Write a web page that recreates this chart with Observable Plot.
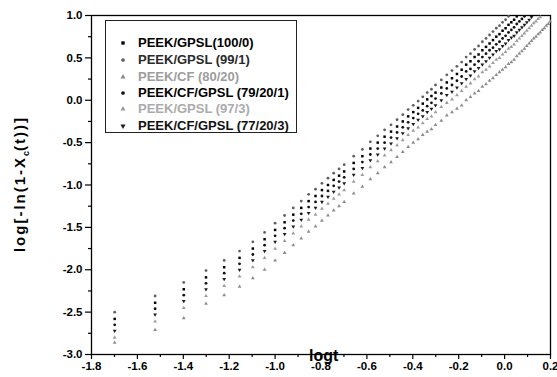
<!DOCTYPE html>
<html><head><meta charset="utf-8">
<script src="https://cdn.jsdelivr.net/npm/d3@7"></script>
<script src="https://cdn.jsdelivr.net/npm/@observablehq/plot@0.6"></script>
<style>
body{margin:0;background:#fff;}
#wrap{position:relative;width:557px;height:377px;font-family:"Liberation Sans",Arial,sans-serif;overflow:hidden;}
#legend{position:absolute;left:105px;top:20px;width:192px;height:113px;border:1px solid #222;box-sizing:border-box;background:#fff;}
.row{position:absolute;left:0;height:16px;line-height:16px;font-size:13px;font-weight:bold;white-space:nowrap;}
.row svg{position:absolute;left:12px;top:3px;}
.row span{position:absolute;left:32px;top:0;}
#xlab{position:absolute;left:309px;top:347px;font-size:16px;font-weight:bold;}
#ylab{position:absolute;left:21px;top:184px;font-size:15px;font-weight:bold;letter-spacing:2px;white-space:nowrap;transform:translate(-50%,-50%) rotate(-90deg);}
#ylab sub{font-size:9px;letter-spacing:0;}
</style>
</head><body>
<div id="wrap"></div>
<script>
// time values (t); x position is log10(t)
const tValues = [0.02,0.03,0.04,0.05,0.06,0.07,0.08,0.09,0.10,0.11,0.12,0.13,0.14,0.15,0.16,0.17,0.18,0.19,0.20,
 0.22,0.24,0.26,0.28,0.30,0.32,0.34,0.36,0.38,0.40,0.42,0.44,0.46,0.48,0.50,
 0.53,0.56,0.59,0.62,0.65,0.68,0.71,0.74,0.77,0.80,0.83,0.86,0.89,0.92,0.95,0.98,1.01,1.04,1.07,1.10,1.13,1.16,1.19,1.22,1.25,1.28,1.31,1.34,1.37,1.40,1.43,1.46,1.49,1.52,1.55,1.58];

const names = ["PEEK/GPSL(100/0)","PEEK/GPSL (99/1)","PEEK/CF (80/20)","PEEK/CF/GPSL (79/20/1)","PEEK/GPSL (97/3)","PEEK/CF/GPSL (77/20/3)"];

const y100_0 = [-2.58,-2.39,-2.23,-2.09,-1.97,-1.86,-1.75,-1.64,-1.53,-1.44,-1.35,-1.27,-1.19,-1.13,-1.06,-1.00,-0.94,-0.89,-0.84,-0.74,-0.66,-0.57,-0.50,-0.43,-0.37,-0.31,-0.25,-0.19,
 -0.14,-0.09,-0.04,0.01,0.05,0.09,0.15,0.21,0.26,0.31,0.36,0.42,0.46,0.51,0.54,0.59,0.63,0.67,0.71,0.75,0.78,0.82,0.85,0.89,0.92,0.95,0.99];
const y99_1 = [-2.50,-2.31,-2.15,-2.01,-1.89,-1.78,-1.67,-1.56,-1.45,-1.36,-1.27,-1.19,-1.11,-1.05,-0.98,-0.92,-0.86,-0.81,-0.76,-0.66,-0.58,-0.49,-0.42,-0.35,-0.29,-0.23,-0.17,-0.11,
 -0.06,-0.01,0.04,0.09,0.13,0.18,0.24,0.30,0.35,0.40,0.45,0.51,0.55,0.60,0.64,0.69,0.73,0.77,0.81,0.85,0.88,0.92,0.95,0.99];
const y80_20 = [-2.86,-2.71,-2.57,-2.40,-2.30,-2.20,-2.10,-2.00,-1.89,-1.80,-1.71,-1.63,-1.55,-1.49,-1.42,-1.36,-1.30,-1.25,-1.20,-1.10,-1.02,-0.93,-0.86,-0.79,-0.73,-0.67,-0.61,-0.55,
 -0.50,-0.46,-0.41,-0.37,-0.34,-0.29,-0.24,-0.18,-0.14,-0.10,-0.06,0.00,0.04,0.08,0.11,0.16,0.19,0.23,0.26,0.30,0.33,0.36,0.39,0.43,0.45,0.48,0.52,0.55,0.58,0.61,0.64,0.67,0.70,0.73,0.75,0.78,0.80,0.83,0.85,0.88,0.90,0.93];
const y79_20_1 = [-2.65,-2.46,-2.30,-2.16,-2.04,-1.93,-1.82,-1.71,-1.60,-1.51,-1.42,-1.34,-1.26,-1.20,-1.13,-1.07,-1.01,-0.96,-0.91,-0.81,-0.73,-0.64,-0.57,-0.50,-0.44,-0.38,-0.32,-0.26,
 -0.21,-0.16,-0.12,-0.07,-0.03,0.02,0.08,0.14,0.18,0.23,0.28,0.34,0.37,0.42,0.46,0.51,0.55,0.59,0.62,0.66,0.69,0.73,0.76,0.80,0.83,0.86,0.90,0.93,0.96,0.99];
const y97_3 = [-2.80,-2.61,-2.45,-2.31,-2.19,-2.08,-1.97,-1.86,-1.75,-1.66,-1.57,-1.49,-1.41,-1.35,-1.28,-1.22,-1.16,-1.11,-1.06,-0.96,-0.88,-0.79,-0.72,-0.65,-0.59,-0.53,-0.47,-0.41,
 -0.36,-0.32,-0.27,-0.22,-0.19,-0.14,-0.08,-0.03,0.01,0.06,0.11,0.16,0.20,0.25,0.28,0.33,0.36,0.40,0.44,0.48,0.50,0.54,0.57,0.61,0.63,0.66,0.70,0.73,0.76,0.79,0.82,0.85,0.88,0.91,0.93,0.96,0.98];
const y77_20_3 = [-2.72,-2.53,-2.37,-2.23,-2.11,-2.00,-1.89,-1.78,-1.67,-1.58,-1.49,-1.41,-1.33,-1.27,-1.20,-1.14,-1.08,-1.03,-0.98,-0.88,-0.80,-0.71,-0.64,-0.57,-0.51,-0.45,-0.39,-0.33,
 -0.28,-0.23,-0.19,-0.14,-0.10,-0.06,0.00,0.06,0.10,0.15,0.20,0.25,0.29,0.34,0.38,0.42,0.46,0.50,0.54,0.58,0.60,0.64,0.67,0.71,0.74,0.76,0.80,0.83,0.86,0.89,0.92,0.95,0.98];

const xTicks = [-1.8,-1.6,-1.4,-1.2,-1.0,-0.8,-0.6,-0.4,-0.2,0.0,0.2];
const xMinor = [-1.7,-1.5,-1.3,-1.1,-0.9,-0.7,-0.5,-0.3,-0.1,0.1];
const yTicks = [-3.0,-2.5,-2.0,-1.5,-1.0,-0.5,0.0,0.5,1.0];
const yMinor = [-2.75,-2.25,-1.75,-1.25,-0.75,-0.25,0.25,0.75];

const seriesValues = [y100_0, y99_1, y80_20, y79_20_1, y97_3, y77_20_3];
const colors = ["#000000","#606060","#8c8c8c","#111111","#9c9c9c","#1c1c1c"];
const textColors = ["#000000","#2a2a2a","#9d9d9d","#000000","#ababab","#111111"];
const symbols = ["square","circle","triangle","circle","triangle","triangle"];
const rotations = [0,0,0,0,0,180];

const rows = [];
seriesValues.forEach((vals, k) => vals.forEach((y, i) => rows.push({logt: Math.log10(tValues[i]), y, s: names[k], rot: rotations[k]})));
// draw light series first so the dark ones sit on top
const order = [2,4,1,0,3,5];
rows.sort((a,b) => order.indexOf(names.indexOf(a.s)) - order.indexOf(names.indexOf(b.s)));

const plot = Plot.plot({
  width: 557, height: 377,
  marginLeft: 91, marginRight: 7, marginTop: 15, marginBottom: 23,
  x: {domain: [-1.8, 0.2]},
  y: {domain: [-3, 1]},
  color: {domain: names, range: colors},
  symbol: {domain: names, range: symbols},
  style: {fontFamily: "'Liberation Sans', Arial, sans-serif", fontSize: "11.5px", fontWeight: "bold", color: "#000", background: "#fff"},
  marks: [
    Plot.axisX({ticks: xMinor, tickSize: 3, tickFormat: () => "", label: null, strokeWidth: 1.2}),
    Plot.axisX({ticks: xTicks, tickSize: 5, tickPadding: 2, tickFormat: d => d.toFixed(1), label: null, strokeWidth: 1.2}),
    Plot.axisY({ticks: yMinor, tickSize: 3, tickFormat: () => "", label: null, strokeWidth: 1.2}),
    Plot.axisY({ticks: yTicks, tickSize: 6, tickPadding: 3, tickFormat: d => d.toFixed(1), label: null, strokeWidth: 1.2}),
    Plot.frame({stroke: "#000", strokeWidth: 1.3}),
    Plot.dot(rows, {x: "logt", y: "y", symbol: "s", fill: "s", r: 1.4, rotate: "rot"})
  ]
});

const wrap = document.getElementById("wrap");
wrap.appendChild(plot);

// legend
const legend = document.createElement("div");
legend.id = "legend";
const rowTops = [14, 31, 48, 64, 80, 97];
names.forEach((n, k) => {
  const r = document.createElement("div");
  r.className = "row";
  r.style.top = rowTops[k] + "px";
  const sym = d3.symbol(symbols[k] === "square" ? d3.symbolSquare : symbols[k] === "circle" ? d3.symbolCircle : d3.symbolTriangle, 11)();
  r.innerHTML = `<svg width="10" height="10" viewBox="-5 -5 10 10"><path d="${sym}" fill="${colors[k]}" transform="rotate(${rotations[k]})"/></svg><span style="color:${textColors[k]}">${n}</span>`;
  legend.appendChild(r);
});
wrap.appendChild(legend);

const xl = document.createElement("div");
xl.id = "xlab"; xl.textContent = "logt";
wrap.appendChild(xl);
const yl = document.createElement("div");
yl.id = "ylab"; yl.innerHTML = "log[-ln(1-X<sub>c</sub>(t))]";
wrap.appendChild(yl);
</script>
</body></html>
